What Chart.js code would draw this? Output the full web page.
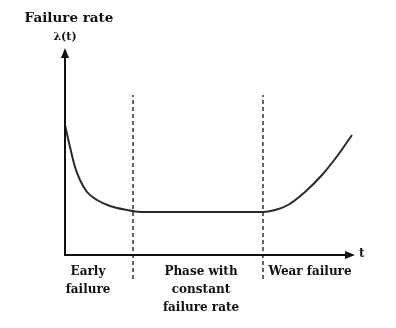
<!DOCTYPE html>
<html>
<head>
<meta charset="utf-8">
<script src="https://cdn.jsdelivr.net/npm/chart.js@4"></script>
<style>
  html, body { margin: 0; padding: 0; background: #fff; }
  #wrap { width: 396px; height: 328px; }
</style>
</head>
<body>
<div id="wrap"><canvas id="bathtub" width="396" height="328"></canvas></div>
<script>
// bathtub curve (t from 0, lambda from 0)
const curveT = [0, 5, 10, 15, 22, 32, 45, 62, 75, 100, 150, 198, 210, 223, 240, 257, 273, 287];
const curveL = [130, 108, 88, 75, 63, 55, 49, 45, 43, 43, 43, 43, 45, 50, 63, 80, 100, 120];

// phase borders
const phaseT = [68, 198];
const phaseSpan = [-24, 160];

const yTitle = 'Failure rate';
const yUnit = 'λ(t)';
const xUnit = 't';
const phaseLabels = [['Early', 'failure'], ['Phase with', 'constant', 'failure rate'], ['Wear failure']];

const font = 'bold 12px "DejaVu Serif", serif';

// axes with arrow heads plus all the text
const axesPlugin = {
    id: 'axesPlugin',
    afterDatasetsDraw(chart) {
        const ctx = chart.ctx;
        const xs = chart.scales.x;
        const ys = chart.scales.y;
        const x0 = xs.getPixelForValue(0);
        const y0 = ys.getPixelForValue(0);
        const xEnd = xs.getPixelForValue(xs.max);
        const yEnd = ys.getPixelForValue(ys.max);

        ctx.save();
        ctx.strokeStyle = '#111';
        ctx.fillStyle = '#111';
        ctx.lineWidth = 2;
        ctx.beginPath();
        ctx.moveTo(x0, yEnd + 6);
        ctx.lineTo(x0, y0);
        ctx.lineTo(xEnd - 6, y0);
        ctx.stroke();

        // arrow heads
        ctx.beginPath();
        ctx.moveTo(x0, yEnd);
        ctx.lineTo(x0 - 4, yEnd + 10);
        ctx.lineTo(x0 + 4, yEnd + 10);
        ctx.closePath();
        ctx.fill();
        ctx.beginPath();
        ctx.moveTo(xEnd, y0);
        ctx.lineTo(xEnd - 10, y0 - 4);
        ctx.lineTo(xEnd - 10, y0 + 4);
        ctx.closePath();
        ctx.fill();

        ctx.textBaseline = 'middle';
        ctx.textAlign = 'center';
        ctx.font = 'bold 13.5px "DejaVu Serif", serif';
        ctx.fillText(yTitle, x0 + 4, 18);
        ctx.font = 'bold 11px "DejaVu Serif", serif';
        ctx.fillText(yUnit, x0, 37);
        ctx.font = font;
        ctx.textAlign = 'left';
        ctx.fillText(xUnit, xEnd + 4, y0 - 1);

        // phase labels under the axis
        ctx.textAlign = 'center';
        const mids = [
            xs.getPixelForValue(phaseT[0] / 2) - 11,
            xs.getPixelForValue((phaseT[0] + phaseT[1]) / 2) + 3,
            xs.getPixelForValue(phaseT[1]) + 47
        ];
        phaseLabels.forEach((lines, i) => {
            lines.forEach((line, j) => {
                ctx.fillText(line, mids[i], y0 + 17 + j * 18);
            });
        });
        ctx.restore();
    }
};

const datasets = [{
    data: curveT.map((t, i) => ({ x: t, y: curveL[i] })),
    borderColor: '#2a2a2a',
    borderWidth: 2,
    pointRadius: 0,
    cubicInterpolationMode: 'monotone',
    fill: false
}];
phaseT.forEach(t => {
    datasets.push({
        data: phaseSpan.map(v => ({ x: t, y: v })),
        borderColor: '#333',
        borderWidth: 1.5,
        borderDash: [4, 3],
        pointRadius: 0,
        clip: false
    });
});

new Chart(document.getElementById('bathtub'), {
    type: 'line',
    data: { datasets: datasets },
    options: {
        responsive: false,
        animation: false,
        layout: { padding: { left: 65, right: 41, top: 48, bottom: 73 } },
        plugins: { legend: { display: false }, tooltip: { enabled: false } },
        scales: {
            x: { type: 'linear', display: false, min: 0, max: 290 },
            y: { type: 'linear', display: false, min: 0, max: 207 }
        }
    },
    plugins: [axesPlugin]
});
</script>
</body>
</html>
